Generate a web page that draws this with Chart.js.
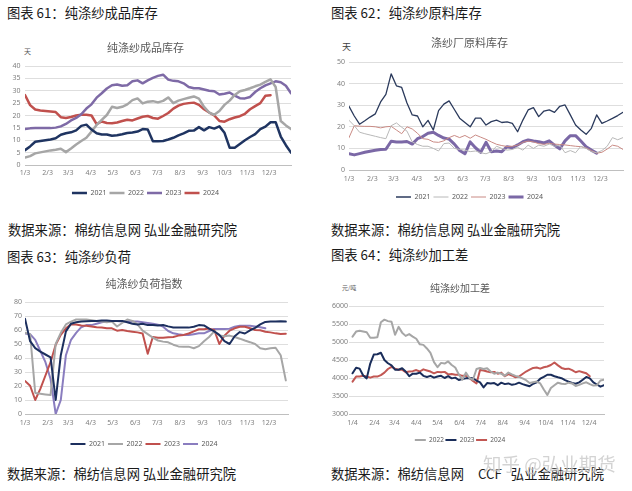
<!DOCTYPE html>
<html><head><meta charset="utf-8">
<script src="https://cdn.jsdelivr.net/npm/chart.js@4.4.1/dist/chart.umd.min.js"></script>
<style>
body{margin:0;background:#fff;width:632px;height:491px;position:relative;overflow:hidden;font-family:'Noto Sans CJK SC',sans-serif;}
.h{position:absolute;white-space:nowrap;color:#1a1a1a;font-size:13.3px;line-height:16px;}
.u{position:absolute;white-space:nowrap;color:#595959;line-height:1;}
canvas{position:absolute;}
.wm{position:absolute;white-space:nowrap;font-size:18.5px;line-height:20px;color:rgba(175,175,175,0.55);text-shadow:0 0 2px #fff;}
</style></head><body>
<div class="h" style="left:7px;top:5px">图表 61：纯涤纱成品库存</div>
<div class="h" style="left:331px;top:5px">图表 62：纯涤纱原料库存</div>
<div class="h" style="left:7px;top:249px">图表 63：纯涤纱负荷</div>
<div class="h" style="left:331px;top:247px">图表 64：纯涤纱加工差</div>
<div class="h" style="left:8px;top:222px">数据来源：棉纺信息网 弘业金融研究院</div>
<div class="h" style="left:331px;top:222px">数据来源：棉纺信息网 弘业金融研究院</div>
<div class="h" style="left:7px;top:466px">数据来源：棉纺信息网 弘业金融研究院</div>
<div class="h" style="left:331px;top:466px">数据来源：棉纺信息网<span style="margin-left:14px">CCF</span><span style="margin-left:9px">弘业金融研究院</span></div>
<div class="u" style="left:24px;top:48px;font-size:7px">天</div>
<div class="u" style="left:342px;top:42px;font-size:9px;color:#404040">天</div>
<div class="u" style="left:342px;top:285px;font-size:6px">元/吨</div>
<canvas id="c1" width="316" height="180" style="left:0;top:30px"></canvas>
<canvas id="c2" width="316" height="190" style="left:316px;top:25px"></canvas>
<canvas id="c3" width="316" height="195" style="left:0;top:265px"></canvas>
<canvas id="c4" width="316" height="190" style="left:316px;top:265px"></canvas>
<div class="wm" style="left:483px;top:453px">知乎 @弘业期货</div>
<script>
// ---- shared tick positions (days after first date) and labels ----
const monthDays = [0,31,59,90,120,151,181,212,243,273,304,334];
const labels3 = ['1/3','2/3','3/3','4/3','5/3','6/3','7/3','8/3','9/3','10/3','11/3','12/3'];
const labels4 = ['1/4','2/4','3/4','4/4','5/4','6/4','7/4','8/4','9/4','10/4','11/4','12/4'];
const years4 = ['2021','2022','2023','2024'];
const years3 = ['2022','2023','2024'];

// ---- chart 61: finished yarn inventory (days), weekly ----
const inv2021 = [6.0,7.5,9.4,9.7,10.0,10.3,10.8,12.2,12.8,13.2,14.0,15.8,16.3,14.3,12.8,12.3,12.3,11.8,12.0,12.4,12.9,13.1,13.5,14.5,14.3,9.6,9.6,9.7,10.3,11.0,12.0,12.8,13.8,13.9,15.3,14.0,15.3,14.7,15.6,13.0,7.0,7.0,8.5,10.0,11.3,12.5,14.5,15.5,17.3,17.3,11.5,8.0,5.0];
const inv2022 = [3.0,3.6,4.7,5.1,5.5,5.9,6.2,6.6,5.2,6.7,8.3,9.7,11.0,13.5,16.2,18.2,20.2,23.5,23.0,23.5,24.5,26.2,26.9,24.9,25.6,25.8,25.3,25.9,27.3,25.0,26.0,26.6,27.2,27.7,26.8,23.5,21.2,20.3,21.8,24.3,26.0,28.3,29.8,30.3,31.0,31.8,32.5,33.6,34.6,31.5,17.8,16.0,14.5];
const inv2023 = [14.5,14.8,14.9,14.9,14.9,14.9,15.1,15.6,16.6,18.0,19.0,20.5,22.8,24.5,27.2,29.0,30.9,32.2,32.5,32.0,32.2,33.8,34.2,33.0,34.2,35.2,36.0,36.5,34.5,34.0,33.8,33.0,31.5,31.0,31.0,30.5,30.0,29.8,28.5,28.8,29.3,28.0,27.0,26.9,27.5,29.5,31.0,32.2,33.0,33.8,33.4,32.0,29.0];
const inv2024 = [28.3,24.2,22.4,22.0,21.8,21.6,21.4,19.3,19.0,19.4,20.0,20.3,20.3,20.0,16.5,17.6,17.0,16.9,17.2,17.8,18.3,18.0,18.8,19.5,19.8,19.0,18.7,19.8,21.0,22.8,24.0,24.7,25.0,25.2,24.3,22.5,21.2,20.0,17.8,17.5,18.5,19.2,19.7,20.7,22.5,23.8,25.0,28.0,28.2];

// ---- chart 62: raw material inventory (days), weekly ----
const raw2021 = [29.5,25,21.2,22.8,24.5,26,31.5,35,44.5,39,38.2,31,25.5,25,20,23,18.5,27.5,30.5,32,28,24,22,20,24,24,20.8,22.4,23.1,22.0,22.3,21.6,17.7,23.1,27.8,28.9,24.7,27.3,27.8,26.7,29.5,30.1,25.5,20.8,18.5,16.5,19.3,25.5,21.6,22.7,23.9,25.2,26.7];
const raw2022 = [23,20.5,17.5,16.8,16.2,15.6,15,14.5,20.5,21.8,19.8,18,13,11.8,11,11,10,8.8,12.2,12.5,10,9.5,9.2,8.5,8.8,8,7.5,8.5,11,10,9.2,9.5,10.5,9.2,11.5,10,11.5,11,12,11,11.5,8,9,8,11,10,8.5,8,9,11,15,14,15];
const raw2023 = [15,20.5,20.3,20.2,20.2,20,19.5,20,20.2,18.5,16.8,20,19,17,14.5,14.2,13,12.8,13.5,15,16,15,16,14.7,16.2,15.2,14.2,13,11.9,11.3,10.9,11.0,11.5,12.8,13.4,13,12.2,11.9,12.3,12.0,11.8,11.6,11.3,11.0,10.8,10.2,9.0,7.8,8.2,9.7,11.5,11.0,9.5];
const raw2024 = [7.5,7.0,7.6,8.2,8.7,9.1,9.5,9.6,13.3,13.0,13.0,13.2,12.0,14.5,15.5,17.0,17.5,16.0,14.8,14.3,12.0,9.0,7.5,13.0,10.3,8.2,12.8,8.5,8.8,8.5,10.8,10.3,11.6,13.1,13.9,13.4,13.1,12.5,13.5,11.5,9.8,13.5,15.9,15.9,13.4,10.8,9.2,7.8];

// ---- chart 63: operating load index, weekly ----
const load2021 = [68,52,47,44.5,42.5,40.5,10,42,59,64.5,65.5,66,66.3,66.5,66.5,66.8,66.7,66.5,66.5,66.5,65.5,64.5,64,64.5,63.5,63.5,63.3,63.6,62.6,61.8,61.7,61.7,61.7,62.3,63.5,63.3,61,59,56.5,52,50,55.5,58.5,57.5,59.8,61.5,64,65.8,66,66,66.3,66];
const load2022 = [58,57,15,14.5,14,13.5,50,58,64,66,67.5,67.5,67.5,67,66.5,66,65.5,66,62.5,65,67.5,66.5,64,59.5,57,54.5,52.5,51.7,51.2,49.5,48.3,48,48.1,47,48.5,52,55,59,56,55.5,56,55,53.8,52.5,51.3,50,47,46.3,47,47.3,42,24];
const load2023 = [23.6,20.2,10,18,27.5,37,49.5,56.5,61.2,64,64,63.2,63,62.5,62,61.8,61.2,61.2,59.5,60,59.3,58.8,58.3,57.5,43,55,54.5,54.5,54.8,55,56,56.5,57.5,59,60.5,60.5,61,60,50,56,59.5,61.2,62.3,62.3,61.3,60,59.8,58.8,58.3,57.6,57.2,57.3];
const load2024 = [57.5,57,53,45,37,25,0,10,42,53,58,62,63.5,63.5,64.5,65.5,66,66.5,66.5,66,66,66,66,65.5,65,64.5,63.8,62.4,59.3,57.6,57,56.5,56.4,57,57.6,57.6,59.3,60.7,60.7,60.7,60.9,62.4,63,63.1,63,62.5,61.9,61.2];

// ---- chart 64: processing spread (yuan/t), sampled every 5 days ----
const spread2022 = [5150,5290,5310,5290,5270,5120,5120,5130,5550,5620,5580,5560,5200,5420,5260,5170,5220,5150,5090,4935,4920,4820,4700,4440,4300,4420,4400,4460,4360,4290,4100,3950,4150,4000,3950,4250,4280,4250,4270,4180,4120,4150,4120,4060,4150,4100,4060,4030,3990,3940,3860,3880,3900,3850,3680,3530,3720,3800,3870,3840,3830,3870,3850,3780,3810,3850,3880,3830,3790,3800,3930,3950];
const spread2023 = [4130,4287,4260,4070,3990,4400,4650,4660,4700,4500,4410,4350,4230,4230,4270,4180,4050,4120,4120,4150,4060,4030,4060,4010,4040,4060,4000,4050,3990,4010,3944,3970,3990,4000,3990,3930,3880,3740,3860,3850,3860,3800,3870,3830,3850,3810,3830,3870,3830,3800,3770,3840,3880,3980,4030,4090,4090,4050,4020,3995,3940,3900,3860,3840,3880,3950,4030,3990,3880,3820,3760,3800];
const spread2024 = [3900,4040,4040,4060,4040,4010,4040,4040,4080,4150,4250,4310,4260,4230,4230,4160,4180,4190,4220,4180,4240,4210,4180,4130,4170,4160,4170,4100,4110,4090,4090,4060,4060,4000,3920,3850,4220,4210,4180,4160,4170,4120,4150,4050,4110,4070,4020,4040,4110,4180,4230,4280,4290,4260,4300,4320,4360,4430,4350,4280,4250,4260,4220,4160,4190,4160,4130,4050];

const CJK = "'Noto Sans CJK SC','Noto Sans',sans-serif";
const NUM = "'Noto Sans','Liberation Sans',sans-serif";

function lineChart(id, o) {
  return new Chart(document.getElementById(id), {
    type: 'line',
    data: { datasets: o.series.map(s => ({
      label: s.label,
      data: s.values.map((v, i) => ({x: o.step * i, y: v})),
      borderColor: s.color, backgroundColor: s.color, borderWidth: s.width,
      pointRadius: 0, tension: 0, fill: false, borderJoinStyle: 'round', borderCapStyle: 'round'
    }))},
    options: {
      responsive: false, animation: false, events: [],
      layout: {padding: o.pad},
      plugins: {
        title: {display: true, text: o.title, color: '#595959',
                font: {family: CJK, size: o.titleSize, weight: 'normal'}, padding: o.titlePad},
        legend: {display: true, position: 'bottom',
                 labels: {usePointStyle: true, pointStyle: 'line', pointStyleWidth: o.lw,
                          color: '#595959', font: {family: NUM, size: o.lf}, padding: o.lp}},
        tooltip: {enabled: false}
      },
      scales: {
        x: {type: 'linear', min: o.xmin, max: o.xmax,
            afterBuildTicks: sc => { sc.ticks = monthDays.map(v => ({value: v})); },
            ticks: {autoSkip: false, maxRotation: 0, color: '#7f7f7f', padding: o.xtp,
                    font: {family: NUM, size: 7}, callback: (v, i) => o.tickLabels[i]},
            grid: {display: false, drawTicks: false},
            border: {display: true, color: '#bfbfbf', width: 1},
            afterFit: sc => { sc.height = o.xh; }},
        y: {min: o.ymin, max: o.ymax,
            ticks: {stepSize: o.ystep, color: '#7f7f7f', padding: o.ytp, font: {family: NUM, size: 7},
                    callback: v => String(v)},
            grid: {color: '#dedede', drawTicks: false, lineWidth: 1},
            border: {display: false},
            afterFit: sc => { sc.width = o.yw; }}
      }
    }
  });
}

lineChart('c1', {
  title: '纯涤纱成品库存', titleSize: 11, titlePad: {top: 11.5, bottom: 11.3},
  pad: {left: 0, right: 25, top: 0, bottom: 3.5},
  step: 7, xmin: 0, xmax: 364, tickLabels: labels3, xh: 21.5, xtp: 4,
  ymin: 0, ymax: 40, ystep: 5, yw: 25, ytp: 4.5,
  lw: 15, lf: 7, lp: 3,
  series: [
    {label: years4[0], values: inv2021, color: '#1f3461', width: 2.5},
    {label: years4[1], values: inv2022, color: '#a6a6a6', width: 2.5},
    {label: years4[2], values: inv2023, color: '#7e6aa6', width: 2.5},
    {label: years4[3], values: inv2024, color: '#c0504d', width: 2.5}
  ]
});

lineChart('c2', {
  title: '涤纱厂原料库存', titleSize: 11, titlePad: {top: 11.4, bottom: 12.4},
  pad: {left: 0, right: 9, top: 0, bottom: 4.5},
  step: 7, xmin: 0, xmax: 364, tickLabels: labels3, xh: 20.5, xtp: 5,
  ymin: 0, ymax: 50, ystep: 5, yw: 33, ytp: 4,
  lw: 15, lf: 7, lp: 3,
  series: [
    {label: years4[0], values: raw2021, color: '#2b3a5c', width: 1.3},
    {label: years4[1], values: raw2022, color: '#b8b8b8', width: 1},
    {label: years4[2], values: raw2023, color: '#c98a84', width: 1},
    {label: years4[3], values: raw2024, color: '#7b68a6', width: 3}
  ]
});

lineChart('c3', {
  title: '纯涤纱负荷指数', titleSize: 11, titlePad: {top: 12.4, bottom: 11.4},
  pad: {left: 0, right: 28, top: 0, bottom: 2.5},
  step: 7, xmin: 0, xmax: 360, tickLabels: labels3, xh: 23.5, xtp: 5,
  ymin: 0, ymax: 80, ystep: 10, yw: 25, ytp: 3,
  lw: 15, lf: 7, lp: 3,
  series: [
    {label: years4[0], values: load2021, color: '#1c2f5e', width: 2},
    {label: years4[1], values: load2022, color: '#a6a6a6', width: 2},
    {label: years4[2], values: load2023, color: '#c0504d', width: 2},
    {label: years4[3], values: load2024, color: '#8a7dbf', width: 2}
  ]
});

lineChart('c4', {
  title: '纯涤纱加工差', titleSize: 10, titlePad: {top: 17, bottom: 12},
  pad: {left: 0, right: 28, top: 0, bottom: 1.75},
  step: 5, xmin: -5, xmax: 355, tickLabels: labels4, xh: 21.25, xtp: 5,
  ymin: 3000, ymax: 6000, ystep: 500, yw: 33, ytp: 1,
  lw: 11, lf: 6.5, lp: 1.5,
  series: [
    {label: years3[0], values: spread2022, color: '#a6a6a6', width: 2},
    {label: years3[1], values: spread2023, color: '#1a2d5a', width: 2},
    {label: years3[2], values: spread2024, color: '#c25753', width: 2}
  ]
});
</script>
</body></html>
